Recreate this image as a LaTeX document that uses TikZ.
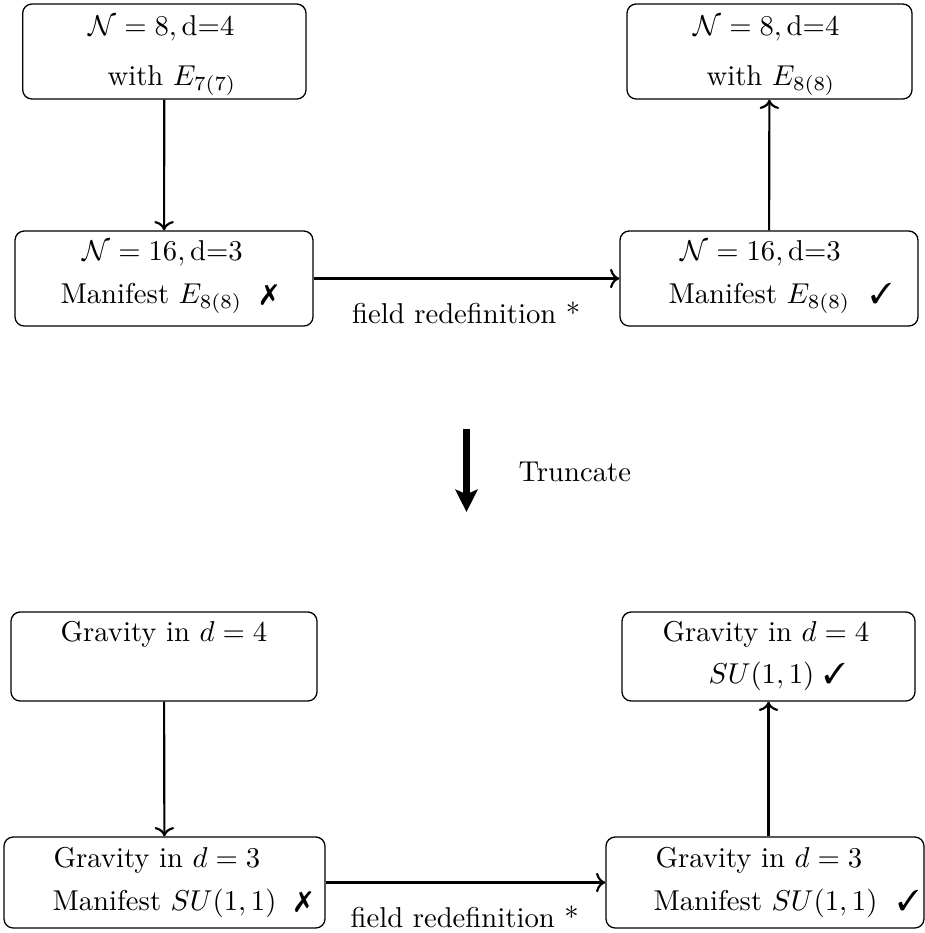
\documentclass[tikz,border=0pt]{standalone}
\usepackage{amsmath}
\usepackage{pifont}
\usetikzlibrary{arrows.meta,fit}
\begin{document}
\begin{tikzpicture}[x=0.3484pt,y=-0.3484pt,
  box/.style={draw=black, line width=0.45pt, rounded corners=3.2pt, inner sep=0pt},
  txt/.style={anchor=base west, inner sep=0pt, font=\fontsize{10}{12}\selectfont},
  conn/.style={->, line width=0.75pt},
  bigarrow/.style={-{Stealth[length=7.8pt,width=7.7pt,inset=1.6pt]}, line width=2.4pt}]
\useasboundingbox (0,0) rectangle (925,933);
% boxes
\node[box, fit={(22.7,4) (306,99)}] (b1) {};
\node[box, fit={(627,4) (912,99)}] (b2) {};
\node[box, fit={(15,231) (313,326)}] (b3) {};
\node[box, fit={(620,231) (918,326)}] (b4) {};
\node[box, fit={(11,612) (317,701)}] (b5) {};
\node[box, fit={(622,612) (915,701)}] (b6) {};
\node[box, fit={(4,837) (325,928)}] (b7) {};
\node[box, fit={(606,837) (924,928)}] (b8) {};
% texts
\node[txt] (t1a) at (88,35) {$\mathcal{N}=8,\mathrm{d}$=4};
\node[txt] (t1b) at (107,85) {with $E_{7(7)}$};
\node[txt] (t2a) at (693,35) {$\mathcal{N}=8,\mathrm{d}$=4};
\node[txt] (t2b) at (706,85) {with $E_{8(8)}$};
\node[txt] (t3a) at (82,260) {$\mathcal{N}=16,\mathrm{d}$=3};
\node[txt] (t3b) at (60,303) {Manifest $E_{8(8)}$\hspace{6.5pt}\ding{55}};
\node[txt] (t4a) at (680,260) {$\mathcal{N}=16,\mathrm{d}$=3};
\node[txt] (t4b) at (668,303) {Manifest $E_{8(8)}$\hspace{7pt}\ding{51}};
\node[txt] (t5a) at (60,641) {Gravity in $d=4$};
\node[txt] (t6a) at (662,641) {Gravity in $d=4$};
\node[txt] (t6b) at (708,683) {$SU(1,1)$ \ding{51}};
\node[txt] (t7a) at (53,867) {Gravity in $d=3$};
\node[txt] (t7b) at (52,910) {Manifest $SU(1,1)$\hspace{6.5pt}\ding{55}};
\node[txt] (t8a) at (655,867) {Gravity in $d=3$};
\node[txt] (t8b) at (653,910) {Manifest $SU(1,1)$\hspace{7pt}\ding{51}};
% connectors
\draw[conn] (b1) -- (b3);
\draw[conn] (b4) -- (b2);
\draw[conn] (b3) -- (b4);
\draw[conn] (b5) -- (b7);
\draw[conn] (b8.north -| b6.south) -- (b6.south);
\draw[conn] (b7) -- (b8);
% labels
\node[txt] (l1) at (351.5,323) {field redefinition *};
\node[txt] (l2) at (350,927) {field redefinition *};
% truncate
\coordinate (ta) at (466.5,429);
\coordinate (tb) at (466.5,512);
\draw[bigarrow] (ta) -- (tb);
\node[txt] (lt) at (518,481.5) {Truncate};
\end{tikzpicture}
\end{document}
